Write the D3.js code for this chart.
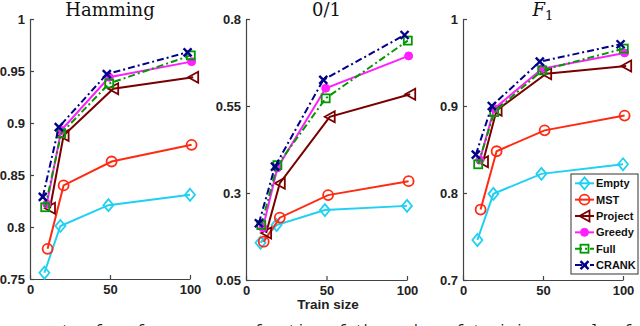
<!DOCTYPE html>
<html><head><meta charset="utf-8">
<script src="https://cdn.jsdelivr.net/npm/d3@7"></script>
<style>
html,body{margin:0;padding:0;background:#fff;overflow:hidden;}
svg{display:block;}
</style></head>
<body>
<svg id="chart" width="640" height="326"></svg>
<script>
// ---- data ----
const methods = ["Empty", "MST", "Project", "Greedy", "Full", "CRANK"];
const xTicks = [0, 50, 100];
const xLabel = "Train size";
// training-set sizes as plotted (markers are slightly staggered per method)
const trainEmpty   = [9, 19, 49, 100];
const trainMST     = [11, 21, 51, 101];
const trainProject = [12.5, 21, 52, 102];
const trainGreedy  = [10.5, 19.5, 49.5, 101];
const trainFull    = [9.5, 19.5, 49.5, 100.5];
const trainCRANK   = [8, 18, 48, 98.5];

const hammingTicks = [0.75, 0.8, 0.85, 0.9, 0.95, 1];
const hammingEmpty   = [0.756, 0.801, 0.821, 0.831];
const hammingMST     = [0.779, 0.840, 0.863, 0.879];
const hammingProject = [0.818, 0.888, 0.933, 0.944];
const hammingGreedy  = [0.822, 0.893, 0.944, 0.959];
const hammingFull    = [0.819, 0.890, 0.938, 0.965];
const hammingCRANK   = [0.829, 0.896, 0.947, 0.968];

const zeroOneTicks = [0.05, 0.3, 0.55, 0.8];
const zeroOneEmpty   = [0.157, 0.208, 0.251, 0.263];
const zeroOneMST     = [0.160, 0.229, 0.294, 0.334];
const zeroOneProject = [0.185, 0.328, 0.519, 0.584];
const zeroOneGreedy  = [0.200, 0.372, 0.601, 0.694];
const zeroOneFull    = [0.208, 0.380, 0.572, 0.738];
const zeroOneCRANK   = [0.213, 0.376, 0.625, 0.754];

const f1Ticks = [0.7, 0.8, 0.9, 1];
const f1Empty   = [0.746, 0.799, 0.822, 0.833];
const f1MST     = [0.781, 0.848, 0.872, 0.889];
const f1Project = [0.836, 0.895, 0.937, 0.946];
const f1Greedy  = [0.838, 0.897, 0.943, 0.961];
const f1Full    = [0.833, 0.893, 0.941, 0.966];
const f1CRANK   = [0.844, 0.900, 0.951, 0.971];

const caption = "parts of performance as a function of the number of training examples for the estimation";

// ---- styling ----
const trainX = [trainEmpty, trainMST, trainProject, trainGreedy, trainFull, trainCRANK];
const colors = ["#1fd0f2", "#ff2a12", "#7a0000", "#ff1eff", "#009a00", "#00008a"];
const dashes = [null, null, null, null, "7,3,2,3", "7,3,2,3"];
const markers = ["diamond", "circle", "triangle", "dot", "square", "cross"];

const panels = [
  {title: "Hamming", ticks: hammingTicks, tickFmt: d => d === 1 ? "1" : String(d),
   series: [hammingEmpty, hammingMST, hammingProject, hammingGreedy, hammingFull, hammingCRANK],
   x0: 30, x1: 190, y0: 279, y1: 19},
  {title: "0/1", ticks: zeroOneTicks, tickFmt: d => String(d),
   series: [zeroOneEmpty, zeroOneMST, zeroOneProject, zeroOneGreedy, zeroOneFull, zeroOneCRANK],
   x0: 246, x1: 407, y0: 280, y1: 19},
  {title: "F1", ticks: f1Ticks, tickFmt: d => d === 1 ? "1" : String(d),
   series: [f1Empty, f1MST, f1Project, f1Greedy, f1Full, f1CRANK],
   x0: 463, x1: 623, y0: 280, y1: 19}
];

const svg = d3.select("#chart");
const axisColor = "#444";
const tickFont = "'Liberation Sans', Arial, sans-serif";

function drawMarker(g, type, x, y, color) {
  const sw = 1.8;
  if (type === "diamond") {
    g.append("path").attr("d", `M${x},${y-6}L${x+5},${y}L${x},${y+6}L${x-5},${y}Z`)
      .attr("fill", "none").attr("stroke", color).attr("stroke-width", sw);
  } else if (type === "circle") {
    g.append("circle").attr("cx", x).attr("cy", y).attr("r", 5)
      .attr("fill", "none").attr("stroke", color).attr("stroke-width", sw);
  } else if (type === "triangle") {
    g.append("path").attr("d", `M${x-5},${y}L${x+5},${y-5.5}L${x+5},${y+5.5}Z`)
      .attr("fill", "none").attr("stroke", color).attr("stroke-width", sw);
  } else if (type === "dot") {
    g.append("circle").attr("cx", x).attr("cy", y).attr("r", 4)
      .attr("fill", color).attr("stroke", color).attr("stroke-width", 1);
  } else if (type === "square") {
    g.append("rect").attr("x", x-4).attr("y", y-4).attr("width", 8).attr("height", 8)
      .attr("fill", "none").attr("stroke", color).attr("stroke-width", sw);
  } else if (type === "cross") {
    g.append("path").attr("d", `M${x-4},${y-4}L${x+4},${y+4}M${x-4},${y+4}L${x+4},${y-4}`)
      .attr("fill", "none").attr("stroke", color).attr("stroke-width", 2.4);
  }
}

panels.forEach((p, pi) => {
  const x = d3.scaleLinear().domain([0, 100]).range([p.x0, p.x1]);
  const y = d3.scaleLinear().domain([p.ticks[0], p.ticks[p.ticks.length-1]]).range([p.y0, p.y1]);
  const g = svg.append("g");

  // axes (MATLAB style: inward ticks, box off)
  const ax = g.append("g").attr("transform", `translate(0,${p.y0})`)
    .call(d3.axisBottom(x).tickValues(xTicks).tickSize(-4).tickSizeOuter(0).tickPadding(7));
  const ay = g.append("g").attr("transform", `translate(${p.x0},0)`)
    .call(d3.axisLeft(y).tickValues(p.ticks).tickFormat(p.tickFmt).tickSize(-4).tickSizeOuter(0).tickPadding(5));
  [ax, ay].forEach(a => {
    a.select(".domain").attr("stroke", axisColor).attr("stroke-width", 1.2);
    a.selectAll(".tick line").attr("stroke", axisColor).attr("stroke-width", 1.2);
    a.selectAll(".tick text").attr("fill", "#222").style("font-family", tickFont)
      .style("font-weight", "bold").style("font-size", "13px");
  });
  ax.selectAll(".tick text").attr("dy", "0.6em");

  // title
  const t = g.append("text").attr("x", (p.x0 + p.x1) / 2).attr("y", 16)
    .attr("text-anchor", "middle").attr("fill", "#111")
    .style("font-family", "'DejaVu Serif', 'Liberation Serif', serif").style("font-size", "18px");
  if (p.title === "F1") {
    t.append("tspan").style("font-style", "italic").text("F");
    t.append("tspan").attr("dy", 4).style("font-size", "13px").text("1");
  } else {
    t.text(p.title);
  }

  // series
  p.series.forEach((vals, si) => {
    const pts = vals.map((v, i) => [x(trainX[si][i]), y(v)]);
    g.append("path").attr("d", d3.line()(pts)).attr("fill", "none")
      .attr("stroke", colors[si]).attr("stroke-width", 2)
      .attr("stroke-dasharray", dashes[si]);
    pts.forEach(pt => drawMarker(g, markers[si], pt[0], pt[1], colors[si]));
  });

  if (pi === 1) {
    g.append("text").attr("x", 328).attr("y", 309).attr("text-anchor", "middle")
      .attr("fill", "#222").style("font-family", tickFont).style("font-weight", "bold")
      .style("font-size", "13.5px").text(xLabel);
  }

  if (pi === 2) {
    const lg = g.append("g");
    lg.append("rect").attr("x", 571).attr("y", 174).attr("width", 67).attr("height", 100)
      .attr("fill", "#fff").attr("stroke", "#333").attr("stroke-width", 1);
    methods.forEach((m, si) => {
      const yy = 183.3 + si * 16.35;
      lg.append("line").attr("x1", 575).attr("x2", 594).attr("y1", yy).attr("y2", yy)
        .attr("stroke", colors[si]).attr("stroke-width", 2).attr("stroke-dasharray", dashes[si]);
      drawMarker(lg, markers[si], 584.5, yy, colors[si]);
      lg.append("text").attr("x", 596).attr("y", yy).attr("dy", "0.35em")
        .attr("fill", "#111").style("font-family", tickFont).style("font-weight", "bold")
        .style("font-size", "11px").text(m);
    });
  }
});

// cut-off caption below the figure (only the tops of the glyphs are visible)
svg.append("text").attr("x", 36).attr("y", 335).attr("fill", "#222")
  .style("font-family", "'Liberation Mono', monospace").style("font-size", "14px")
  .text(caption);
</script>
</body></html>
